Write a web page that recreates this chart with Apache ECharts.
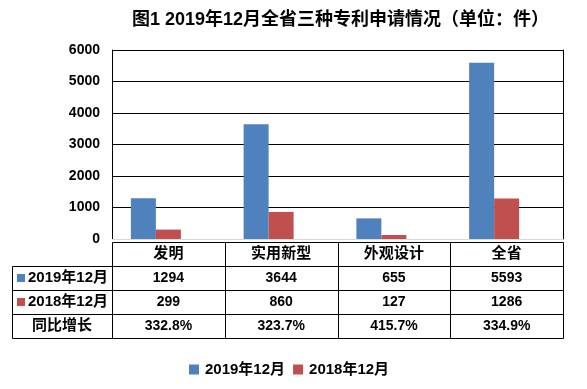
<!DOCTYPE html>
<html>
<head>
<meta charset="utf-8">
<script src="https://cdn.jsdelivr.net/npm/echarts@6/dist/echarts.min.js"></script>
<style>
html,body{margin:0;padding:0;background:#fff;}
#main{width:587px;height:389px;}
</style>
</head>
<body>
<div id="main"></div>
<script>
const titleText = '图1 2019年12月全省三种专利申请情况（单位：件）';
const categories = ['发明', '实用新型', '外观设计', '全省'];
const seriesNames = ['2019年12月', '2018年12月', '同比增长'];
const values2019 = [1294, 3644, 655, 5593];
const values2018 = [299, 860, 127, 1286];
const growthLabels = ['332.8%', '323.7%', '415.7%', '334.9%'];
const yMin = 0, yMax = 6000, yStep = 1000;
const colors = ['#4F81BD', '#C0504D'];

const FONT_FAM = '"Liberation Sans", "Noto Sans CJK SC", sans-serif';
const chart = echarts.init(document.getElementById('main'), null, {renderer: 'canvas'});

const option = {
  animation: false,
  backgroundColor: '#fff',
  title: {
    text: titleText,
    left: 127, top: 6,
    textStyle: {fontFamily: FONT_FAM, fontWeight: 'bold', fontSize: 18, color: '#000'}
  },
  legend: {
    data: seriesNames.slice(0, 2),
    left: 184, top: 357,
    itemWidth: 10, itemHeight: 10, itemGap: 8,
    icon: 'rect',
    textStyle: {fontFamily: FONT_FAM, fontWeight: 'bold', fontSize: 15, color: '#000', padding: [0, 0, 0, 1]}
  },
  grid: {left: 112, right: 24, top: 50, bottom: 150, containLabel: false},
  xAxis: {
    type: 'category',
    data: categories,
    axisLine: {show: true, lineStyle: {color: '#D9D9D9', width: 1}},
    axisTick: {show: false},
    axisLabel: {show: false},
    splitLine: {show: false}
  },
  yAxis: [{
    type: 'value',
    min: yMin, max: yMax, interval: yStep,
    axisLine: {show: true, lineStyle: {color: '#000', width: 1}},
    axisTick: {show: false},
    axisLabel: {margin: 12, fontFamily: FONT_FAM, fontWeight: 'bold', fontSize: 14, color: '#000',
                formatter: v => String(v)},
    splitLine: {show: true, lineStyle: {color: ['#D9D9D9', '#000', '#000', '#000', '#000', '#000', '#000'], width: 1}}
  }, {
    type: 'value',
    position: 'right',
    min: yMin, max: yMax, interval: yStep,
    axisLine: {show: true, lineStyle: {color: '#000', width: 1}},
    axisTick: {show: false},
    axisLabel: {show: false},
    splitLine: {show: false}
  }],
  series: [
    {name: seriesNames[0], type: 'bar', data: values2019, barWidth: 25, barGap: '0%', itemStyle: {color: colors[0]}},
    {name: seriesNames[1], type: 'bar', data: values2018, barWidth: 25, barGap: '0%', itemStyle: {color: colors[1]}},
    {name: seriesNames[2], type: 'bar', data: categories.map(() => null), barWidth: 25, barGap: '0%', itemStyle: {color: 'transparent'}}
  ]
};
chart.setOption(option);

function buildTable() {
  const xs = categories.map(c => chart.convertToPixel({xAxisIndex: 0}, c));
  const band = xs[1] - xs[0];
  const y0 = chart.convertToPixel({yAxisIndex: 0}, 0);
  const left = xs[0] - band / 2;
  const right = xs[xs.length - 1] + band / 2;
  const tableLeft = 12;
  const top = y0 + 2.5;
  const rowH = 24;
  const rows = 4;
  const els = [];
  const px = v => Math.round(v) + 0.5;
  const line = (x1, y1, x2, y2) => els.push({
    type: 'line', silent: true,
    shape: {x1: x1, y1: y1, x2: x2, y2: y2},
    style: {stroke: '#000', lineWidth: 1}
  });
  line(px(left), px(top), px(right), px(top));
  for (let r = 1; r <= rows; r++) {
    const y = px(top + r * rowH);
    line(px(tableLeft), y, px(right), y);
  }
  line(px(tableLeft), px(top + rowH), px(tableLeft), px(top + rows * rowH));
  for (let c = 0; c <= categories.length; c++) {
    const x = px(left + c * band);
    line(x, px(top), x, px(top + rows * rowH));
  }
  const text = (t, x, y, align, size) => els.push({
    type: 'text', silent: true,
    style: {text: t, x: x, y: y, align: align, verticalAlign: 'middle',
            fill: '#000', font: 'bold ' + size + 'px ' + FONT_FAM}
  });
  categories.forEach((c, i) => text(c, xs[i], top + rowH * 0.5 + 0.5, 'center', 15));
  const rowData = [values2019.map(String), values2018.map(String), growthLabels];
  rowData.forEach((vals, r) => {
    const yc = top + rowH * (r + 1.5) + 0.5;
    vals.forEach((v, i) => text(v, xs[i], yc, 'center', 14));
    if (r < 2) {
      els.push({
        type: 'rect', silent: true,
        shape: {x: 17, y: Math.round(yc - 4), width: 8, height: 8},
        style: {fill: colors[r]}
      });
      text(seriesNames[r], 28, yc, 'left', 15);
    } else {
      text(seriesNames[r], (tableLeft + left) / 2, yc, 'center', 15);
    }
  });
  chart.setOption({graphic: {elements: els}});
}
buildTable();
</script>
</body>
</html>
